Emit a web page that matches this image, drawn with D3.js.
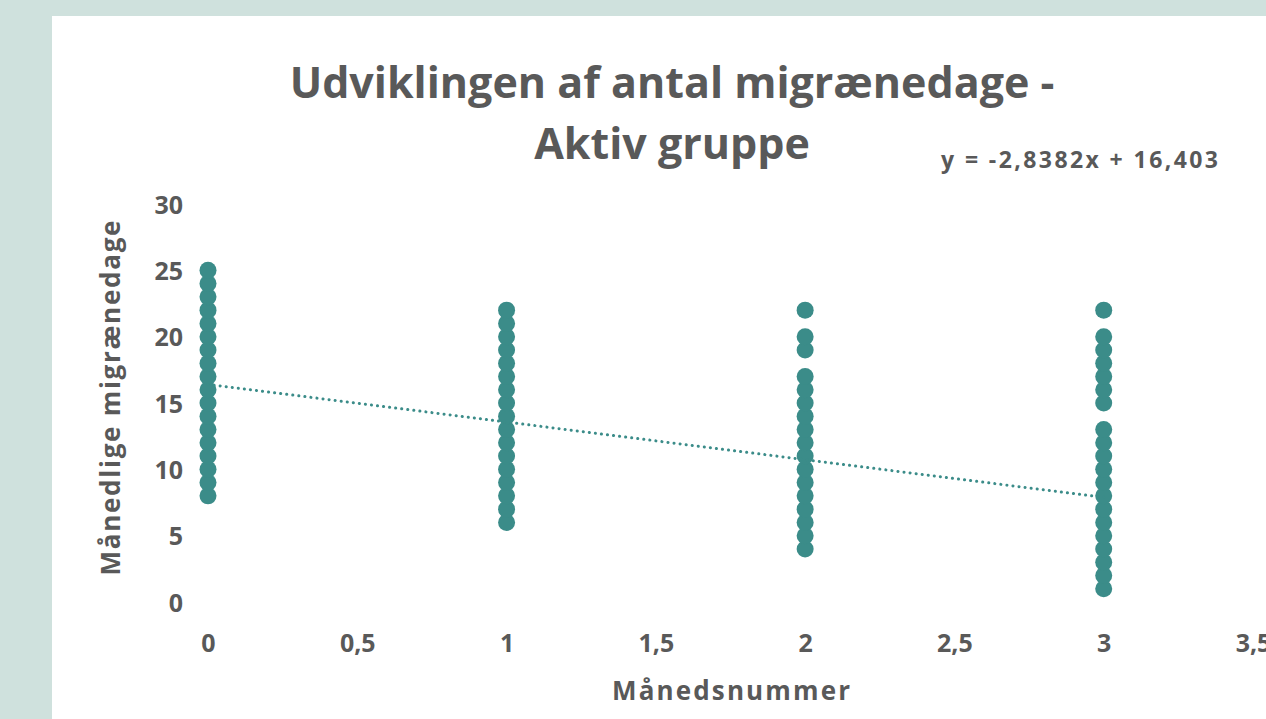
<!DOCTYPE html>
<html>
  <head>
    <meta charset="utf-8">
    <title>Udviklingen af antal migrænedage - Aktiv gruppe</title>
    <script src="https://d3js.org/d3.v7.min.js"></script>
    <style>
      html, body { margin: 0; padding: 0; background: #cfe1dd; }
      svg { display: block; }
      text { font-family: "Open Sans", sans-serif; font-weight: 700; fill: #595959; }
    </style>
  </head>
  <body>
    <svg id="chart" width="1266" height="719"></svg>
    <script>
      // data: monthly migraine days per month number (visible distinct values)
      month0 = [8, 9, 10, 11, 12, 13, 14, 15, 16, 17, 18, 19, 20, 21, 22, 23, 24, 25];
      month1 = [6, 7, 8, 9, 10, 11, 12, 13, 14, 15, 16, 17, 18, 19, 20, 21, 22];
      month2 = [4, 5, 6, 7, 8, 9, 10, 11, 12, 13, 14, 15, 16, 17, 19, 20, 22];
      month3 = [1, 2, 3, 4, 5, 6, 7, 8, 9, 10, 11, 12, 13, 15, 16, 17, 18, 19, 20, 22];
      months = [0, 1, 2, 3];
      xTicks = [0, 0.5, 1, 1.5, 2, 2.5, 3, 3.5];
      yTicks = [0, 5, 10, 15, 20, 25, 30];
      trendSlope = -2.8382;
      trendIntercept = 16.403;
      equationLabel = "y = -2,8382x + 16,403";
      titleLines = ["Udviklingen af antal migrænedage -", "Aktiv gruppe"];

      points = [month0, month1, month2, month3].flatMap(function(vals, i) {
        return vals.map(function(v) { return { x: months[i], y: v }; });
      });

      svg = d3.select("#chart");
      svg.append("rect")
        .attr("x", 52).attr("y", 16)
        .attr("width", 1266 - 52).attr("height", 719 - 16)
        .attr("fill", "#ffffff");

      x = d3.scaleLinear().domain([0, 3.5]).range([208, 1253]);
      y = d3.scaleLinear().domain([0, 30]).range([602, 204]);
      fmt = function(d) { return String(d).replace(".", ","); };

      // title
      svg.append("text")
        .attr("text-anchor", "middle")
        .style("font-size", "43px")
        .selectAll("tspan")
          .data(titleLines)
        .enter().append("tspan")
          .attr("x", 672)
          .attr("y", function(d, i) { return 98 + i * 61; })
          .text(function(d) { return d; });

      // axes (labels only)
      xAxis = svg.append("g")
        .attr("transform", "translate(0,652)")
        .call(d3.axisBottom(x).tickValues(xTicks).tickFormat(fmt).tickSize(0).tickPadding(0));
      xAxis.select(".domain").remove();
      xAxis.selectAll("text").style("font-size", "25px").attr("dy", 0);

      yAxis = svg.append("g")
        .attr("transform", "translate(183,0)")
        .call(d3.axisLeft(y).tickValues(yTicks).tickFormat(fmt).tickSize(0).tickPadding(0));
      yAxis.select(".domain").remove();
      yAxis.selectAll("text").style("font-size", "25px").attr("dy", "0.36em");

      svg.append("text")
        .attr("text-anchor", "middle")
        .attr("x", 731).attr("y", 700)
        .style("font-size", "26px")
        .attr("textLength", 238)
        .attr("lengthAdjust", "spacing")
        .text("Månedsnummer");

      svg.append("text")
        .attr("text-anchor", "middle")
        .attr("transform", "translate(120,398) rotate(-90)")
        .style("font-size", "26px")
        .attr("textLength", 355)
        .attr("lengthAdjust", "spacing")
        .text("Månedlige migrænedage");

      // points
      svg.append("g")
        .selectAll("circle")
          .data(points)
        .enter().append("circle")
          .attr("cx", function(d) { return x(d.x); })
          .attr("cy", function(d) { return y(d.y); })
          .attr("r", 8.5)
          .attr("fill", "#3b8c89");

      // linear trendline
      svg.append("line")
        .attr("x1", x(0)).attr("y1", y(trendIntercept))
        .attr("x2", x(3)).attr("y2", y(trendIntercept + trendSlope * 3))
        .attr("stroke", "#3b8c89")
        .attr("stroke-width", 3)
        .attr("stroke-linecap", "round")
        .attr("stroke-dasharray", "0.1 6");

      svg.append("text")
        .attr("x", 941).attr("y", 168)
        .style("font-size", "23px")
        .attr("textLength", 277)
        .attr("lengthAdjust", "spacing")
        .text(equationLabel);
    </script>
  </body>
</html>
